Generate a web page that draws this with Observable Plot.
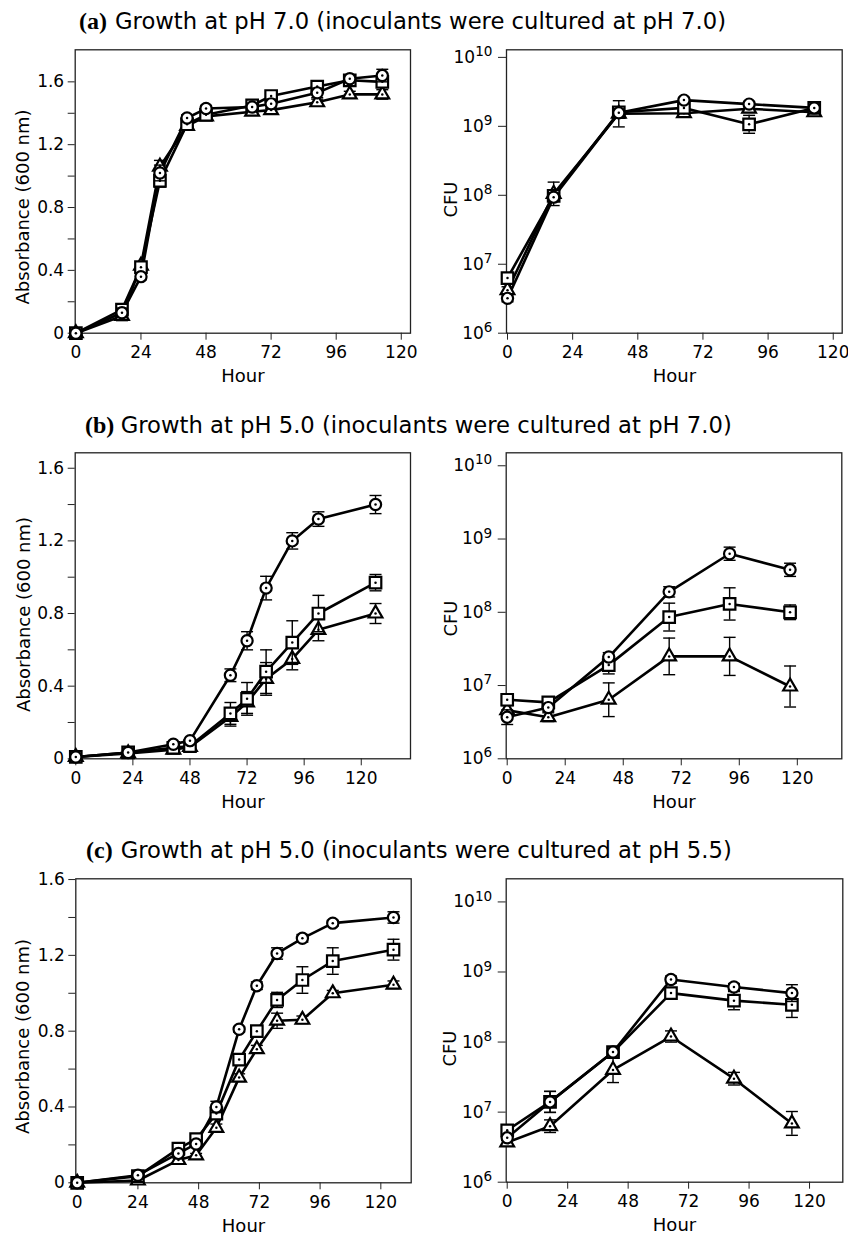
<!DOCTYPE html>
<html><head><meta charset="utf-8">
<script src="https://cdn.jsdelivr.net/npm/d3@7"></script>
<script src="https://cdn.jsdelivr.net/npm/@observablehq/plot@0.6"></script>
<style>
html,body{margin:0;padding:0;background:#fff;}
#root{position:relative;width:848px;height:1237px;overflow:hidden;background:#fff;}
.pl{position:absolute;}
.tl{position:absolute;white-space:nowrap;line-height:1;color:#000;}
.tl.b{font-family:"Liberation Serif",serif;font-weight:bold;font-size:24px;}
.tl.t{font-family:"DejaVu Sans",sans-serif;font-size:22.7px;}
</style></head><body><div id="root"></div>
<script>
// ---------- titles ----------
const panelLetters = ["(a)", "(b)", "(c)"];
const panelTitles = [
  "Growth at pH 7.0 (inoculants were cultured at pH 7.0)",
  "Growth at pH 5.0 (inoculants were cultured at pH 7.0)",
  "Growth at pH 5.0 (inoculants were cultured at pH 5.5)"
];
// ---------- tick labels ----------
const hourTicks = [0, 24, 48, 72, 96, 120];
const odTicks = [0, 0.2, 0.4, 0.6, 0.8, 1.0, 1.2, 1.4, 1.6];
const odTickLabels = ["0", "", "0.4", "", "0.8", "", "1.2", "", "1.6"];
const cfuTicks = [1e6, 1e7, 1e8, 1e9, 1e10];
const cfuExponents = ["6", "7", "8", "9", "10"];
const xLabel = "Hour";
const odLabel = "Absorbance (600 nm)";
const cfuLabel = "CFU";

// ---------- (a) absorbance ----------
const aOdHours = [0, 17, 24, 31, 41, 48, 65, 72, 89, 101, 113];
const aOdCircle = [0, 0.13, 0.36, 1.02, 1.37, 1.43, 1.44, 1.46, 1.53, 1.62, 1.64];
const aOdSquare = [0, 0.15, 0.42, 0.97, 1.33, 1.39, 1.45, 1.51, 1.57, 1.61, 1.60];
const aOdTriangle = [0, 0.11, 0.43, 1.06, 1.32, 1.38, 1.41, 1.42, 1.47, 1.52, 1.52];
const aOdCircleErr = [0.01, 0.03, 0.02, 0.05, 0.02, 0.02, 0.02, 0.03, 0.03, 0.02, 0.04];
const aOdSquareErr = [0.01, 0.03, 0.02, 0.04, 0.02, 0.02, 0.02, 0.02, 0.02, 0.02, 0.03];
const aOdTriangleErr = [0.01, 0.03, 0.02, 0.04, 0.02, 0.02, 0.02, 0.02, 0.02, 0.02, 0.03];
// ---------- (a) CFU ----------
const aCfuHours = [0, 17, 41, 65, 89, 113];
const aCfuCircle = [3.2e6, 9.4e7, 1.57e9, 2.4e9, 2.1e9, 1.85e9];
const aCfuSquare = [6.3e6, 9.8e7, 1.6e9, 1.85e9, 1.07e9, 1.85e9];
const aCfuTriangle = [4.2e6, 1.05e8, 1.52e9, 1.55e9, 1.8e9, 1.6e9];
const aCfuCircleErrLog = [0.05, 0.06, 0.05, 0.04, 0.04, 0.04];
const aCfuSquareErrLog = [0.05, 0.05, 0.05, 0.05, 0.13, 0.04];
const aCfuTriangleErrLog = [0.05, 0.17, 0.19, 0.04, 0.04, 0.04];

// ---------- (b) absorbance ----------
const bOdHours = [0, 22, 41, 48, 65, 72, 80, 91, 102, 126];
const bOdCircle = [0.01, 0.035, 0.08, 0.10, 0.46, 0.65, 0.94, 1.20, 1.32, 1.40];
const bOdSquare = [0.01, 0.035, 0.06, 0.07, 0.25, 0.33, 0.48, 0.64, 0.80, 0.97];
const bOdTriangle = [0.01, 0.03, 0.05, 0.065, 0.23, 0.31, 0.44, 0.55, 0.71, 0.80];
const bOdCircleErr = [0.005, 0.005, 0.01, 0.01, 0.035, 0.05, 0.065, 0.045, 0.04, 0.05];
const bOdSquareErr = [0.005, 0.005, 0.01, 0.01, 0.06, 0.09, 0.12, 0.12, 0.10, 0.045];
const bOdTriangleErr = [0.005, 0.005, 0.01, 0.01, 0.05, 0.06, 0.09, 0.06, 0.06, 0.055];
// ---------- (b) CFU ----------
const bCfuHours = [0, 17, 42, 67, 92, 117];
const bCfuCircle = [3.7e6, 5.0e6, 2.45e7, 1.9e8, 6.3e8, 3.8e8];
const bCfuSquare = [6.4e6, 5.9e6, 1.9e7, 8.6e7, 1.3e8, 1.0e8];
const bCfuTriangle = [4.6e6, 3.7e6, 6.4e6, 2.5e7, 2.5e7, 9.7e6];
const bCfuCircleErrLog = [0.1, 0.05, 0.06, 0.07, 0.09, 0.09];
const bCfuSquareErrLog = [0.08, 0.05, 0.12, 0.19, 0.22, 0.1];
const bCfuTriangleErrLog = [0.07, 0.06, 0.23, 0.25, 0.26, 0.28];

// ---------- (c) absorbance ----------
const cOdHours = [0, 24, 40, 47, 55, 64, 71, 79, 89, 101, 125];
const cOdCircle = [0, 0.04, 0.155, 0.205, 0.40, 0.81, 1.04, 1.21, 1.29, 1.37, 1.40];
const cOdSquare = [0, 0.035, 0.18, 0.23, 0.365, 0.65, 0.80, 0.965, 1.07, 1.17, 1.23];
const cOdTriangle = [0, 0.012, 0.12, 0.145, 0.29, 0.555, 0.705, 0.855, 0.86, 1.00, 1.045];
const cOdCircleErr = [0.01, 0.01, 0.01, 0.01, 0.03, 0.015, 0.02, 0.03, 0.02, 0.015, 0.03];
const cOdSquareErr = [0.01, 0.01, 0.02, 0.02, 0.03, 0.02, 0.02, 0.04, 0.07, 0.07, 0.055];
const cOdTriangleErr = [0.01, 0.01, 0.01, 0.01, 0.02, 0.02, 0.02, 0.04, 0.02, 0.015, 0.02];
// ---------- (c) CFU ----------
const cCfuHours = [0, 17, 42, 65, 90, 113];
const cCfuCircle = [4.3e6, 1.4e7, 7.2e7, 7.8e8, 6.1e8, 5.0e8];
const cCfuSquare = [5.5e6, 1.4e7, 7.2e7, 5.0e8, 3.9e8, 3.4e8];
const cCfuTriangle = [3.7e6, 6.3e6, 4.0e7, 1.2e8, 3.0e7, 6.9e6];
const cCfuCircleErrLog = [0.04, 0.15, 0.04, 0.05, 0.05, 0.12];
const cCfuSquareErrLog = [0.04, 0.15, 0.04, 0.04, 0.13, 0.18];
const cCfuTriangleErrLog = [0.03, 0.09, 0.18, 0.08, 0.09, 0.17];

// ---------- build rows ----------
const drawOrder = ["triangle", "square", "circle"];
function odRows(hours, c, s, t, ce, se, te) {
  const src = {circle: [c, ce], square: [s, se], triangle: [t, te]};
  const out = [];
  for (const k of drawOrder) {
    const [v, e] = src[k];
    hours.forEach((h, i) => out.push({series: k, t: h, v: v[i], lo: v[i] - e[i], hi: v[i] + e[i]}));
  }
  return out;
}
function cfuRows(hours, c, s, t, ce, se, te) {
  const src = {circle: [c, ce], square: [s, se], triangle: [t, te]};
  const out = [];
  for (const k of drawOrder) {
    const [v, e] = src[k];
    hours.forEach((h, i) => out.push({series: k, t: h, v: v[i], lo: v[i] / Math.pow(10, e[i]), hi: v[i] * Math.pow(10, e[i])}));
  }
  return out;
}

const capSymbol = {draw(ctx, size) { const w = Math.sqrt(size / Math.PI); ctx.moveTo(-w, 0); ctx.lineTo(w, 0); }};
const symR = {circle: 5.6, square: 6.5, triangle: 5.1};

const root = document.getElementById("root");

function panel(cfg) {
  const [sx, sy, sw, sh] = cfg.svg;
  const [fx0, fx1, fy0, fy1] = cfg.frame;
  const rows = cfg.rows;
  const yAxis = cfg.log
    ? Plot.axisY({ticks: cfuTicks, tickFormat: d => "10^" + cfuExponents[cfuTicks.indexOf(d)], tickSize: 8, tickPadding: 6, label: null, stroke: "#222"})
    : Plot.axisY({ticks: odTicks, tickFormat: d => odTickLabels[odTicks.findIndex(v => Math.abs(v - d) < 1e-9)], tickSize: 7, tickPadding: 4, label: null, stroke: "#222"});
  const marks = [
    Plot.frame({stroke: "#222", strokeWidth: 1.3}),
    Plot.axisX({ticks: hourTicks, tickSize: 7, tickPadding: 6, label: null, stroke: "#222"}),
    yAxis,
    Plot.text([xLabel], {frameAnchor: "bottom", dy: 43, fontSize: 18, lineAnchor: "middle", textAnchor: "middle"}),
    Plot.text([cfg.log ? cfuLabel : odLabel], {frameAnchor: "left", rotate: -90, dx: cfg.ldx, dy: cfg.ldy, fontSize: 18, lineAnchor: "middle", textAnchor: "middle"}),
    Plot.line(rows, {x: "t", y: "v", z: "series", stroke: "#000", strokeWidth: 2.6})
  ];
  for (const s of drawOrder) {
    const d = rows.filter(r => r.series === s);
    marks.push(Plot.ruleX(d, {x: "t", y1: "lo", y2: "hi", stroke: "#000", strokeWidth: 1.4}));
    marks.push(Plot.dot(d, {x: "t", y: "lo", symbol: capSymbol, r: 6, stroke: "#000", strokeWidth: 1.4, fill: "none"}));
    marks.push(Plot.dot(d, {x: "t", y: "hi", symbol: capSymbol, r: 6, stroke: "#000", strokeWidth: 1.4, fill: "none"}));
    marks.push(Plot.dot(d, {x: "t", y: "v", symbol: s, r: symR[s], fill: "#fff", stroke: "#000", strokeWidth: 2.2}));
    marks.push(Plot.dot(d, {x: "t", y: "v", r: 1.25, fill: "#000", stroke: "none"}));
  }
  const svg = Plot.plot({
    width: sw, height: sh,
    marginLeft: fx0 - sx, marginRight: sx + sw - fx1,
    marginTop: fy0 - sy, marginBottom: sy + sh - fy1,
    style: {fontFamily: "'DejaVu Sans', sans-serif", fontSize: "17px", color: "#000", background: "transparent", overflow: "visible"},
    x: {domain: cfg.xDomain},
    y: cfg.log ? {type: "log", domain: cfg.yDomain} : {domain: cfg.yDomain},
    marks
  });
  if (cfg.log) {
    svg.querySelectorAll('g[aria-label="y-axis tick label"] text').forEach(t => {
      const s = t.textContent;
      const exp = s.split("^")[1];
      t.textContent = "";
      const base = document.createElementNS("http://www.w3.org/2000/svg", "tspan");
      base.textContent = "10";
      const sup = document.createElementNS("http://www.w3.org/2000/svg", "tspan");
      sup.textContent = exp;
      sup.setAttribute("dy", "-0.5em");
      sup.setAttribute("font-size", "0.8em");
      t.appendChild(base); t.appendChild(sup);
    });
  }
  svg.classList.add("pl");
  svg.style.left = sx + "px";
  svg.style.top = sy + "px";
  svg.style.position = "absolute";
  root.appendChild(svg);
}

function title(i, letterLeft, textLeft, baseline) {
  const a = document.createElement("div");
  a.className = "tl b";
  a.textContent = panelLetters[i];
  a.style.left = letterLeft + "px";
  a.style.top = (baseline - 0.8375 * 24) + "px";
  root.appendChild(a);
  const b = document.createElement("div");
  b.className = "tl t";
  b.textContent = panelTitles[i];
  b.style.left = textLeft + "px";
  b.style.top = (baseline - 0.846 * 22.7) + "px";
  root.appendChild(b);
}

title(0, 79, 115, 29.5);
title(1, 85, 120.7, 433);
title(2, 86, 120.7, 858.3);

panel({svg: [0, 40, 424, 350], frame: [74.7, 410, 49.3, 332.7], xDomain: [-0.25, 123.4], yDomain: [0, 1.804], log: false,
  rows: odRows(aOdHours, aOdCircle, aOdSquare, aOdTriangle, aOdCircleErr, aOdSquareErr, aOdTriangleErr), ldx: -51.7, ldy: 15.5});
panel({svg: [424, 40, 424, 350], frame: [506, 841.7, 49.3, 332.7], xDomain: [-0.37, 123.3], yDomain: [1e6, Math.pow(10, 10.11)], log: true,
  rows: cfuRows(aCfuHours, aCfuCircle, aCfuSquare, aCfuTriangle, aCfuCircleErrLog, aCfuSquareErrLog, aCfuTriangleErrLog), ldx: -55.3, ldy: 8});
panel({svg: [0, 440, 424, 380], frame: [74.7, 410, 452.3, 758.3], xDomain: [-0.25, 140.7], yDomain: [0, 1.685], log: false,
  rows: odRows(bOdHours, bOdCircle, bOdSquare, bOdTriangle, bOdCircleErr, bOdSquareErr, bOdTriangleErr), ldx: -51.2, ldy: 8.7});
panel({svg: [424, 440, 424, 380], frame: [505.7, 841.3, 452.3, 758.3], xDomain: [-0.41, 138.4], yDomain: [1e6, Math.pow(10, 10.177)], log: true,
  rows: cfuRows(bCfuHours, bCfuCircle, bCfuSquare, bCfuTriangle, bCfuCircleErrLog, bCfuSquareErrLog, bCfuTriangleErrLog), ldx: -55, ldy: 12.7});
panel({svg: [0, 865, 424, 372], frame: [75.3, 410.7, 878.3, 1182.3], xDomain: [-0.55, 132], yDomain: [0, 1.604], log: false,
  rows: odRows(cOdHours, cOdCircle, cOdSquare, cOdTriangle, cOdCircleErr, cOdSquareErr, cOdTriangleErr), ldx: -52.3, ldy: 5.7});
panel({svg: [424, 865, 424, 372], frame: [505.7, 842.3, 878.3, 1181.7], xDomain: [-0.4, 133.2], yDomain: [1e6, Math.pow(10, 10.33)], log: true,
  rows: cfuRows(cCfuHours, cCfuCircle, cCfuSquare, cCfuTriangle, cCfuCircleErrLog, cCfuSquareErrLog, cCfuTriangleErrLog), ldx: -55.7, ldy: 18});
</script></body></html>
